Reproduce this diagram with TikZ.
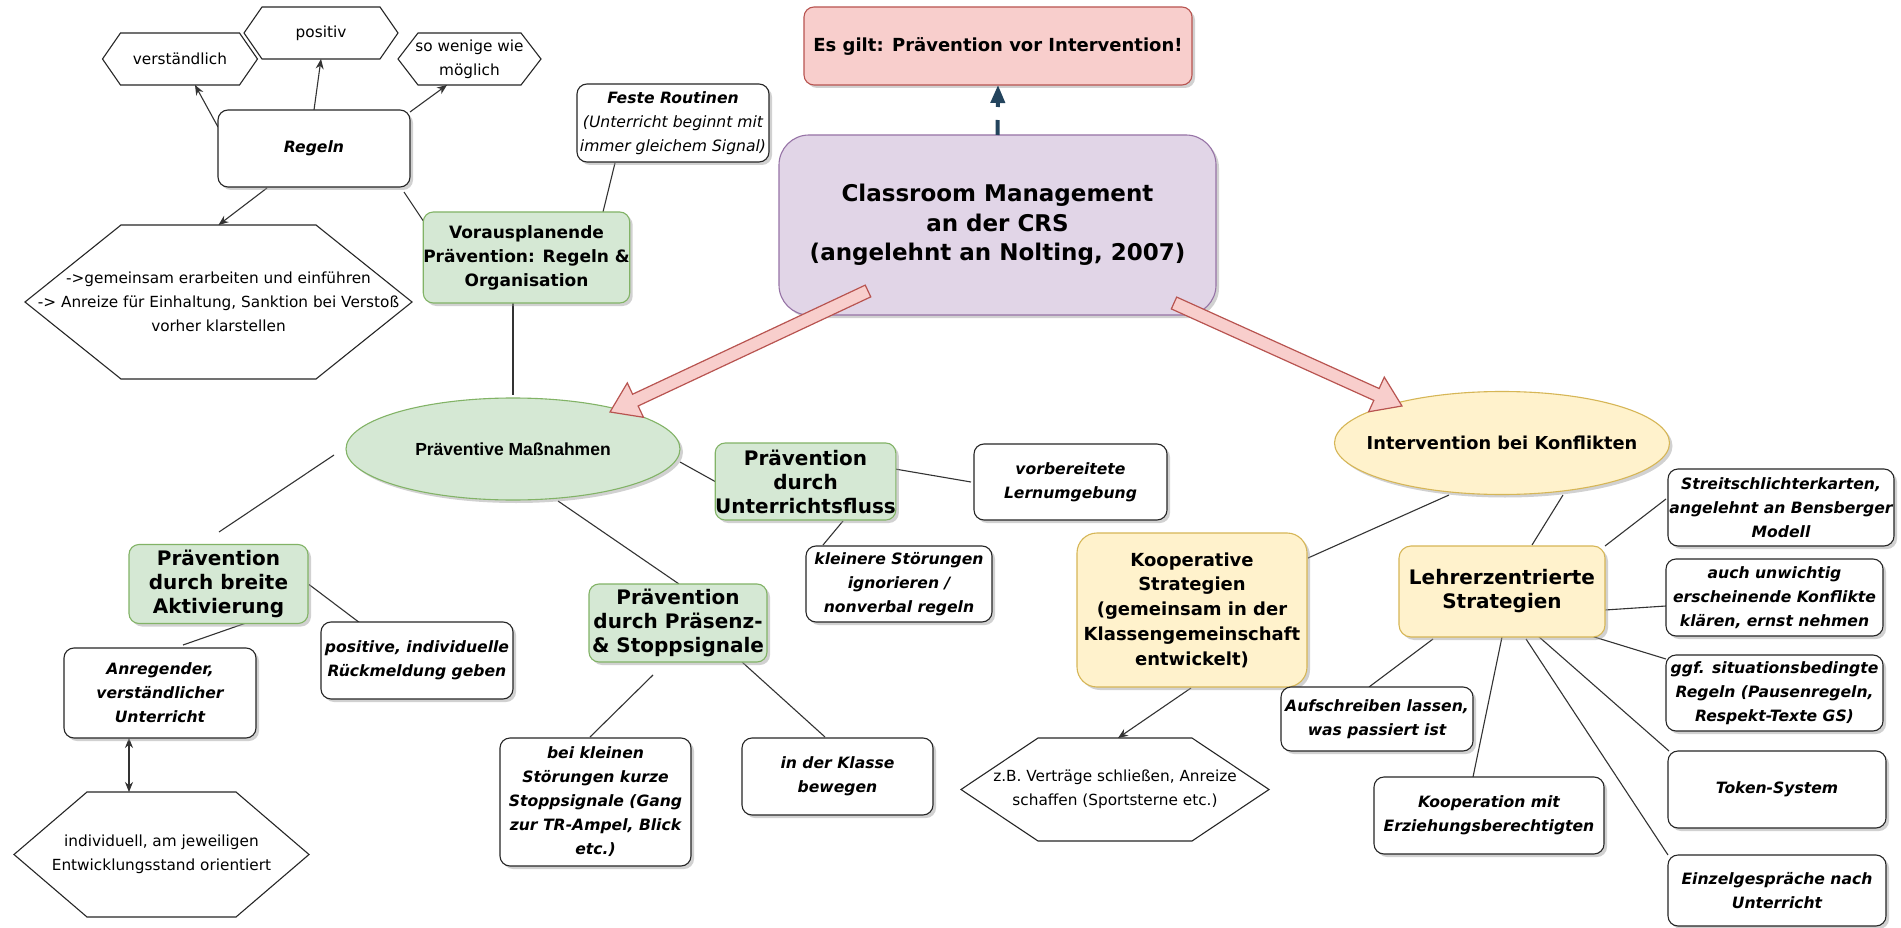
\documentclass[tikz,border=0pt]{standalone}
\usepackage{fontspec}
\setmainfont{DejaVu Sans}
\newfontfamily\arialf{Liberation Sans}
\usetikzlibrary{calc,arrows.meta,shapes.geometric,shadows}
\definecolor{gfill}{HTML}{D5E8D4}
\definecolor{gline}{HTML}{82B366}
\definecolor{yfill}{HTML}{FFF2CC}
\definecolor{yline}{HTML}{D6B656}
\definecolor{pfill}{HTML}{E1D5E7}
\definecolor{pline}{HTML}{9673A6}
\definecolor{rfill}{HTML}{F8CECC}
\definecolor{rline}{HTML}{B85450}
\definecolor{navy}{HTML}{23445D}
\pgfdeclarelayer{bg}
\pgfdeclarelayer{paper}
\pgfsetlayers{paper,bg,main}
\newcommand{\drawhex}[2]{\draw[hexline] ([xshift=#2]#1.north west) -- ([xshift=-#2]#1.north east) -- (#1.east) -- ([xshift=-#2]#1.south east) -- ([xshift=#2]#1.south west) -- (#1.west) -- cycle;}
\newcommand{\blockarr}[2]{\filldraw[bigarr] let \p1=(#1), \p2=(#2), \n1={atan2(\y2-\y1,\x2-\x1)}, \n2={veclen(\x2-\x1,\y2-\y1)} in [shift={(\p1)}, rotate=\n1] (0pt,6.5pt) -- ({\n2-28pt},6.5pt) -- ({\n2-28pt},19pt) -- ({\n2+0pt},0pt) -- ({\n2-28pt},-19pt) -- ({\n2-28pt},-6.5pt) -- (0pt,-6.5pt) -- cycle;}
\begin{document}
\begin{tikzpicture}[x=1pt,y=-1pt,
  sz/.style 2 args={minimum width=#1pt, minimum height=#2pt},
  shad/.style={drop shadow={shadow xshift=3pt,shadow yshift=-3pt,fill=black!40,opacity=0.45}},
  wbox/.style={draw=black!85, fill=white, rounded corners=10pt, line width=1.1pt, inner sep=0pt, outer sep=0pt, align=center, shad},
  gbox/.style={wbox, draw=gline, fill=gfill},
  ybox/.style={wbox, draw=yline, fill=yfill, rounded corners=20pt},
  hexn/.style={inner sep=0pt, outer sep=0pt, align=center, fhex},
  hexline/.style={draw=black!85, line width=1.1pt},
  fbi/.style={font=\fontsize{15.6}{24}\selectfont\bfseries\itshape},
  fit/.style={font=\fontsize{15.6}{24}\selectfont\itshape},
  fhex/.style={font=\fontsize{15.3}{24}\selectfont},
  fgreen/.style={font=\fontsize{20}{24}\selectfont\bfseries},
  fmid/.style={font=\fontsize{17}{24}\selectfont\bfseries},
  conn/.style={draw=black!80, line width=1.1pt},
  arr/.style={-{Stealth[length=10pt,width=8pt]}},
  bigarr/.style={draw=rline, fill=rfill, line width=1.2pt, line join=miter},
]
\useasboundingbox (0,0) rectangle (1901,928);
\begin{pgfonlayer}{paper}
\fill[white] (0,0) rectangle (1901,928);
\end{pgfonlayer}

% top
\node[wbox, draw=rline, fill=rfill, sz={388}{78}, font=\fontsize{18}{24}\selectfont\bfseries] (eg) at (998,46) {Es gilt: Prävention vor Intervention!};
\node[wbox, draw=pline, fill=pfill, rounded corners=30pt, sz={437}{180}, font=\fontsize{23}{29.5}\selectfont\bfseries] (cm) at (997.5,225) {Classroom Management\\an der CRS\\(angelehnt an Nolting, 2007)};

% ellipses
\node[shape=ellipse, draw=gline, fill=gfill, line width=1.1pt, inner sep=0pt, sz={334}{102}, shad, font=\fontsize{17.5}{22}\selectfont\arialf\bfseries] (pm) at (513,449) {\makebox[0pt]{Präventive Maßnahmen}};
\node[shape=ellipse, draw=yline, fill=yfill, line width=1.1pt, inner sep=0pt, sz={335}{103}, shad, font=\fontsize{17.8}{22}\selectfont\bfseries] (iv) at (1502,443) {\makebox[0pt]{Intervention bei Konflikten}};

% Regeln cluster
\node[wbox, sz={192}{77}, fbi] (rg) at (314,148.5) {Regeln};
\node[hexn, sz={155}{52}] (hv) at (180,59) {verständlich};
\drawhex{hv}{18pt}
\node[hexn, sz={154}{52}] (hp) at (321,33) {positiv};
\drawhex{hp}{18pt}
\node[hexn, sz={143}{52}] (hw) at (469.5,59) {so wenige wie\\möglich};
\drawhex{hw}{20pt}
\node[hexn, sz={387}{154}] (hg) at (218.5,302) {->gemeinsam erarbeiten und einführen\\-> Anreize für Einhaltung, Sanktion bei Verstoß\\vorher klarstellen};
\drawhex{hg}{96pt}
\node[gbox, sz={205}{91}, fmid] (va) at (526.5,257.5) {Vorausplanende\\Prävention: Regeln \&\\Organisation};
\node[wbox, sz={192}{78}, fit] (fr) at (673,123) {\textbf{Feste Routinen}\\(Unterricht beginnt mit\\immer gleichem Signal)};

% left branch
\node[gbox, sz={179}{79}, fgreen] (ba) at (218.5,584) {Prävention\\durch breite\\Aktivierung};
\node[wbox, sz={192}{90}, fbi] (ar) at (160,693) {Anregender,\\verständlicher\\Unterricht};
\node[wbox, sz={192}{77}, fbi] (pr) at (417,660.5) {positive, individuelle\\Rückmeldung geben};
\node[hexn, sz={295}{125}] (hi) at (161.5,854.5) {individuell, am jeweiligen\\Entwicklungsstand orientiert};
\drawhex{hi}{73pt}

% middle branch
\node[gbox, sz={178}{78}, fgreen] (ps) at (678,623) {Prävention\\durch Präsenz-\\\& Stoppsignale};
\node[gbox, sz={179}{77}, fgreen] (uf) at (805.5,481.5) {Prävention\\durch\\Unterrichtsfluss};
\node[wbox, sz={186}{76}, fbi] (kl) at (899,584) {kleinere Störungen\\ignorieren /\\nonverbal regeln};
\node[wbox, sz={191}{128}, fbi] (bk) at (595.5,802) {bei kleinen\\Störungen kurze\\Stoppsignale (Gang\\zur TR-Ampel, Blick\\etc.)};
\node[wbox, sz={191}{77}, fbi] (ik) at (837.5,776.5) {in der Klasse\\bewegen};
\node[wbox, sz={193}{76}, fbi] (vl) at (1070.5,482) {vorbereitete\\Lernumgebung};

% right branch
\node[ybox, sz={230}{154}, font=\fontsize{18}{24.7}\selectfont\bfseries] (ko) at (1192,610) {Kooperative\\Strategien\\(gemeinsam in der\\Klassengemeinschaft\\entwickelt)};
\node[hexn, sz={308}{103}] (hz) at (1115,789.5) {z.B. Verträge schließen, Anreize\\schaffen (Sportsterne etc.)};
\drawhex{hz}{77pt}
\node[ybox, rounded corners=12pt, sz={206}{91}, fgreen] (lz) at (1502,591.5) {Lehrerzentrierte\\Strategien};
\node[wbox, sz={192}{64}, fbi] (af) at (1377,719) {Aufschreiben lassen,\\was passiert ist};
\node[wbox, sz={230}{77}, fbi] (ke) at (1489,815.5) {Kooperation mit\\Erziehungsberechtigten};
\node[wbox, sz={226}{77}, fbi] (ss) at (1781,507.5) {Streitschlichterkarten,\\angelehnt an Bensberger\\Modell};
\node[wbox, sz={217}{77}, fbi] (au) at (1774.5,597.5) {auch unwichtig\\erscheinende Konflikte\\klären, ernst nehmen};
\node[wbox, sz={217}{76}, fbi] (gg) at (1774.5,693) {ggf. situationsbedingte\\Regeln (Pausenregeln,\\Respekt-Texte GS)};
\node[wbox, sz={218}{77}, fbi] (ts) at (1777,789.5) {Token-System};
\node[wbox, sz={218}{71}, fbi] (ez) at (1777,890.5) {Einzelgespräche nach\\Unterricht};

% connectors
\begin{pgfonlayer}{bg}
\draw[conn,arr] ($(rg)+(-96,-21.5)$) -- ($(hv)+(15,26)$);
\draw[conn,arr] (rg.north) -- (hp.south);
\draw[conn,arr] ($(rg)+(96,-36.5)$) -- ($(hw)+(-22.5,26)$);
\draw[conn,arr] ($(rg)+(-47,39.5)$) -- (hg.north);
\draw[conn] ($(va)+(-98.5,-29.5)$) -- ($(rg)+(90,43.5)$);
\draw[conn] ($(fr)+(-58,40)$) -- ($(va)+(76.5,-45.5)$);
\draw[conn] ($(va)+(-13.5,45.5)$) -- ($(pm)+(0,-54)$);
\draw[conn] ($(pm)+(-179,6)$) -- ($(ba)+(0.5,-52)$);
\draw[conn] ($(ba)+(27.5,39)$) -- ($(ar)+(23,-48)$);
\draw[conn] ($(ba)+(90.5,0.5)$) -- ($(pr)+(-57,-37.5)$);
\draw[conn,{Stealth[length=10pt,width=8pt]}-{Stealth[length=10pt,width=8pt]}] ($(ar)+(-31,45)$) -- ($(hi)+(-32.5,-62.5)$);
\draw[conn] ($(pm)+(167,13)$) -- ($(uf)+(-89.5,0.5)$);
\draw[conn] ($(pm)+(45,52)$) -- ($(ps)+(1,-39)$);
\draw[conn] ($(uf)+(89.5,-12.5)$) -- ($(vl)+(-99.5,0)$);
\draw[conn] ($(uf)+(37.5,39.5)$) -- ($(kl)+(-76,-39)$);
\draw[conn] ($(ps)+(-25,52)$) -- ($(bk)+(-5.5,-65)$);
\draw[conn] ($(ps)+(64,39)$) -- ($(ik)+(-12.5,-39.5)$);
\draw[conn] ($(iv)+(-53,52)$) -- ($(ko)+(116,-52)$);
\draw[conn] ($(iv)+(61,52)$) -- ($(lz)+(30,-46.5)$);
\draw[conn,arr] ($(ko)+(-1,78)$) -- ($(hz)+(3,-51.5)$);
\draw[conn] ($(lz)+(-69,47.5)$) -- ($(af)+(-8,-32)$);
\draw[conn] ($(lz)+(0,45.5)$) -- ($(ke)+(-16,-38.5)$);
\draw[conn] ($(lz)+(103,-45.5)$) -- ($(ss)+(-115,-8.5)$);
\draw[conn] ($(lz)+(103,18.5)$) -- ($(au)+(-108.5,8.5)$);
\draw[conn] ($(lz)+(89,44.5)$) -- ($(gg)+(-108.5,-34)$);
\draw[conn] ($(lz)+(36,44.5)$) -- ($(ts)+(-108,-38.5)$);
\draw[conn] ($(lz)+(24,47.5)$) -- ($(ez)+(-109,-35.5)$);
\end{pgfonlayer}

% dashed arrow to top box
\draw[draw=navy, line width=4pt, dash pattern=on 15pt off 13pt, -{Triangle[length=18pt,width=14pt,fill=navy]}] (cm.north) -- (eg.south);

% big block arrows
\coordinate (la0) at ($(cm)+(-129.5,66)$);
\coordinate (la1) at ($(pm)+(97,-37)$);
\coordinate (ra0) at ($(cm)+(176.5,78)$);
\coordinate (ra1) at ($(iv)+(-100,-37)$);
\blockarr{la0}{la1}
\blockarr{ra0}{ra1}
\end{tikzpicture}
\end{document}
